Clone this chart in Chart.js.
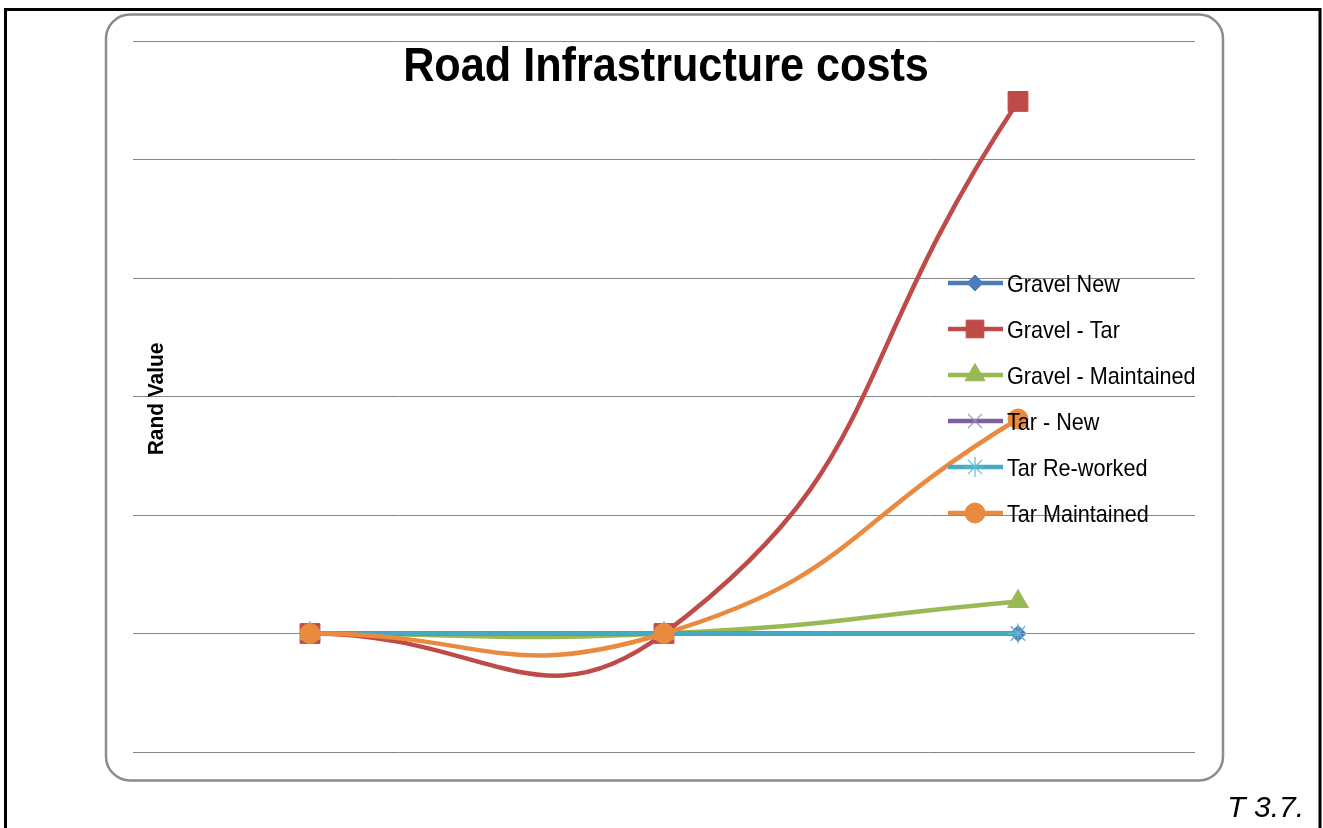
<!DOCTYPE html>
<html>
<head>
<meta charset="utf-8">
<title>Road Infrastructure costs</title>
<script src="https://cdn.jsdelivr.net/npm/chart.js@4.4.0/dist/chart.umd.min.js"></script>
<style>
  html, body { margin: 0; padding: 0; background: #fff; }
  canvas { display: block; }
</style>
</head>
<body>
<canvas id="chart" width="1323" height="828"></canvas>
<script>
// Data (y axis has no labels; 1 unit = one gridline step)
const categories = ['1', '2', '3'];
const seriesNames = ['Gravel New', 'Gravel - Tar', 'Gravel - Maintained', 'Tar - New', 'Tar Re-worked', 'Tar Maintained'];
const gravelNew = [0, 0, 0];
const gravelTar = [0, 0, 4.49];
const gravelMaintained = [0, 0, 0.27];
const tarNew = [0, 0, 0];
const tarReworked = [0, 0, 0];
const tarMaintained = [0, 0, 1.81];
const yMin = -1;
const yMax = 5;

const FONT = '"Liberation Sans", Arial, Helvetica, sans-serif';

// Excel 2007 style series looks
const looks = [
  { color: '#4a7ebb', marker: 'rectRot', radius: 8, markerBorder: 1, legendRadius: 8 },
  { color: '#be4b48', marker: 'rect', radius: 14, markerBorder: 1, legendRadius: 12.5 },
  { color: '#98b954', marker: 'triangle', radius: 12, markerBorder: 1, legendRadius: 11.5 },
  { color: '#7d60a0', marker: 'crossRot', radius: 10, markerBorder: 1.2, markerColor: '#a08cc4', legendRadius: 10 },
  { color: '#46aac5', marker: 'star', radius: 10, markerBorder: 1.2, markerColor: '#62bad6', legendRadius: 10 },
  { color: '#ea8a3f', marker: 'circle', radius: 10, markerBorder: 1, legendRadius: 10 }
];

const allValues = [gravelNew, gravelTar, gravelMaintained, tarNew, tarReworked, tarMaintained];

const datasets = allValues.map((values, i) => ({
  label: seriesNames[i],
  data: values,
  borderColor: looks[i].color,
  backgroundColor: looks[i].markerColor || looks[i].color,
  borderWidth: 4.5,
  tension: 0.5,
  pointStyle: looks[i].marker,
  pointRadius: looks[i].radius,
  pointBorderWidth: looks[i].markerBorder,
  pointBorderColor: looks[i].markerColor || looks[i].color,
  pointBackgroundColor: looks[i].markerColor || looks[i].color,
  order: allValues.length - 1 - i // later series on top, like Excel
}));

// background: page frame + rounded chart box
const framePlugin = {
  id: 'frame',
  beforeDraw(chart) {
    const ctx = chart.ctx;
    ctx.save();
    ctx.strokeStyle = '#000';
    ctx.lineWidth = 3;
    ctx.beginPath();
    ctx.moveTo(5.5, 830);
    ctx.lineTo(5.5, 9.5);
    ctx.lineTo(1320, 9.5);
    ctx.lineTo(1320, 830);
    ctx.stroke();

    ctx.fillStyle = '#fff';
    ctx.strokeStyle = '#8c8c8c';
    ctx.lineWidth = 2.5;
    ctx.beginPath();
    ctx.roundRect(106, 14.5, 1117, 766, 24);
    ctx.fill();
    ctx.stroke();
    ctx.restore();
  }
};

// title, axis title, legend and footnote
const textPlugin = {
  id: 'texts',
  afterDraw(chart) {
    const ctx = chart.ctx;
    ctx.save();
    ctx.fillStyle = '#000';

    // title, condensed bold like the original
    ctx.save();
    ctx.font = 'bold 48px ' + FONT;
    ctx.textAlign = 'center';
    ctx.textBaseline = 'alphabetic';
    ctx.translate(666, 81);
    ctx.scale(0.9, 1);
    ctx.fillText('Road Infrastructure costs', 0, 0);
    ctx.restore();

    // y axis title
    ctx.save();
    ctx.font = 'bold 22px ' + FONT;
    ctx.textAlign = 'center';
    ctx.textBaseline = 'alphabetic';
    ctx.translate(163, 399);
    ctx.rotate(-Math.PI / 2);
    ctx.scale(0.95, 1);
    ctx.fillText('Rand Value', 0, 0);
    ctx.restore();

    // legend
    chart.data.datasets.forEach((ds, i) => {
      const y = 283 + 46 * i;
      ctx.strokeStyle = ds.borderColor;
      ctx.lineWidth = 4.5;
      ctx.lineCap = 'butt';
      ctx.beginPath();
      ctx.moveTo(948, y);
      ctx.lineTo(1003, y);
      ctx.stroke();

      ctx.fillStyle = ds.pointBackgroundColor;
      ctx.strokeStyle = ds.pointBorderColor;
      ctx.lineWidth = ds.pointBorderWidth;
      Chart.helpers.drawPoint(ctx, {
        pointStyle: ds.pointStyle,
        radius: looks[i].legendRadius,
        borderWidth: ds.pointBorderWidth,
        rotation: 0
      }, 975, y);

      ctx.save();
      ctx.fillStyle = '#000';
      ctx.font = '24px ' + FONT;
      ctx.textAlign = 'left';
      ctx.textBaseline = 'alphabetic';
      ctx.translate(1007, y + 9);
      ctx.scale(0.9, 1);
      ctx.fillText(ds.label, 0, 0);
      ctx.restore();
    });

    // footnote
    ctx.fillStyle = '#000';
    ctx.font = 'italic 30px ' + FONT;
    ctx.textAlign = 'right';
    ctx.textBaseline = 'alphabetic';
    ctx.fillText('T 3.7.', 1304, 817);
    ctx.restore();
  }
};

const ctx = document.getElementById('chart').getContext('2d');
const chart = new Chart(ctx, {
  type: 'line',
  data: { labels: categories, datasets: datasets },
  options: {
    responsive: false,
    animation: false,
    devicePixelRatio: 1,
    layout: { padding: { left: 133, right: 128, top: 41, bottom: 76 } },
    plugins: {
      legend: { display: false },
      title: { display: false },
      tooltip: { enabled: false }
    },
    scales: {
      x: { display: false, offset: true },
      y: {
        min: yMin,
        max: yMax,
        ticks: { display: false, stepSize: 1 },
        border: { display: false },
        grid: { color: '#868686', lineWidth: 1, drawTicks: false }
      }
    }
  },
  plugins: [framePlugin, textPlugin]
});
</script>
</body>
</html>
